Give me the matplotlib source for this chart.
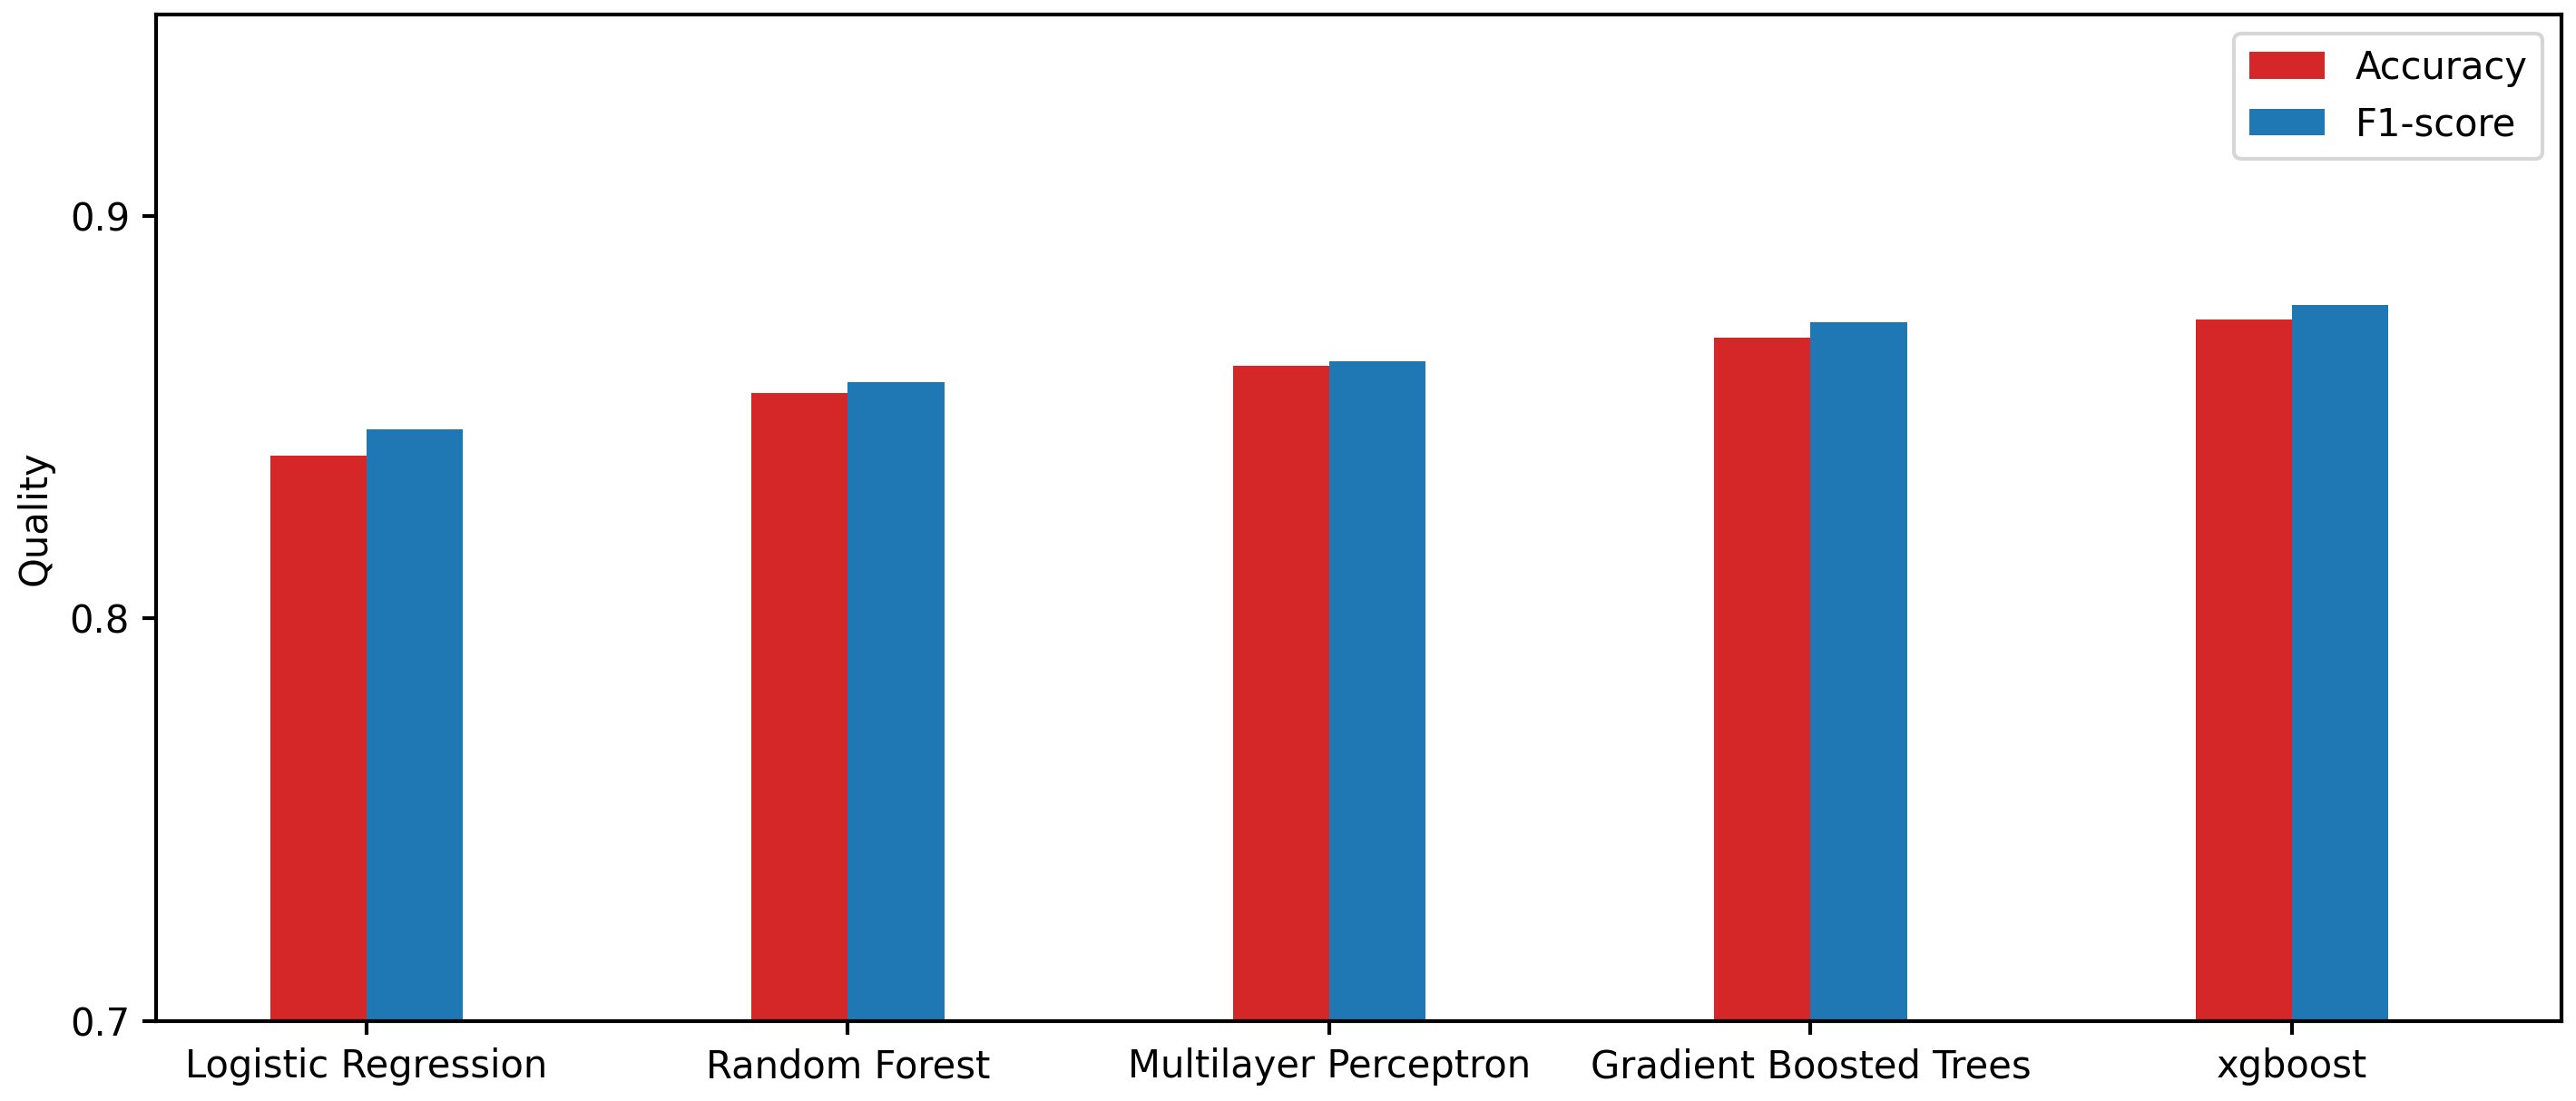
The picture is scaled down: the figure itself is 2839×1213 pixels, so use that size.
"""
Bar chart of classifier quality (accuracy and F1-score) per model.
"""

import matplotlib

matplotlib.use("Agg")

import matplotlib.pyplot as plt
import numpy as np

models = [
    "Logistic Regression",
    "Random Forest",
    "Multilayer Perceptron",
    "Gradient Boosted Trees",
    "xgboost",
]
accuracy = [0.8405, 0.8559, 0.8627, 0.8697, 0.8742]
f1_score = [0.8470, 0.8586, 0.8640, 0.8735, 0.8778]

y_ticks = [0.7, 0.8, 0.9]

bar_width = 0.2
x = np.arange(len(models))

fig, ax = plt.subplots(figsize=(2839 / 300, 1213 / 300), dpi=300)
fig.subplots_adjust(left=0.0606, right=0.9944, top=0.9868, bottom=0.0725)

ax.bar(x - bar_width / 2, accuracy, width=bar_width, color="tab:red", label="Accuracy")
ax.bar(x + bar_width / 2, f1_score, width=bar_width, color="tab:blue", label="F1-score")

ax.set_xticks(x)
ax.set_xticklabels(models)
ax.set_yticks(y_ticks)
ax.set_ylim(0.7, 0.95)
ax.set_xlim(-0.437, 4.56)
ax.set_ylabel("Quality")
ax.legend(loc="upper right")

for spine in ax.spines.values():
    spine.set_linewidth(1.0)
ax.tick_params(width=1.0)

fig.savefig("out.png", dpi=300)
plt.close(fig)
